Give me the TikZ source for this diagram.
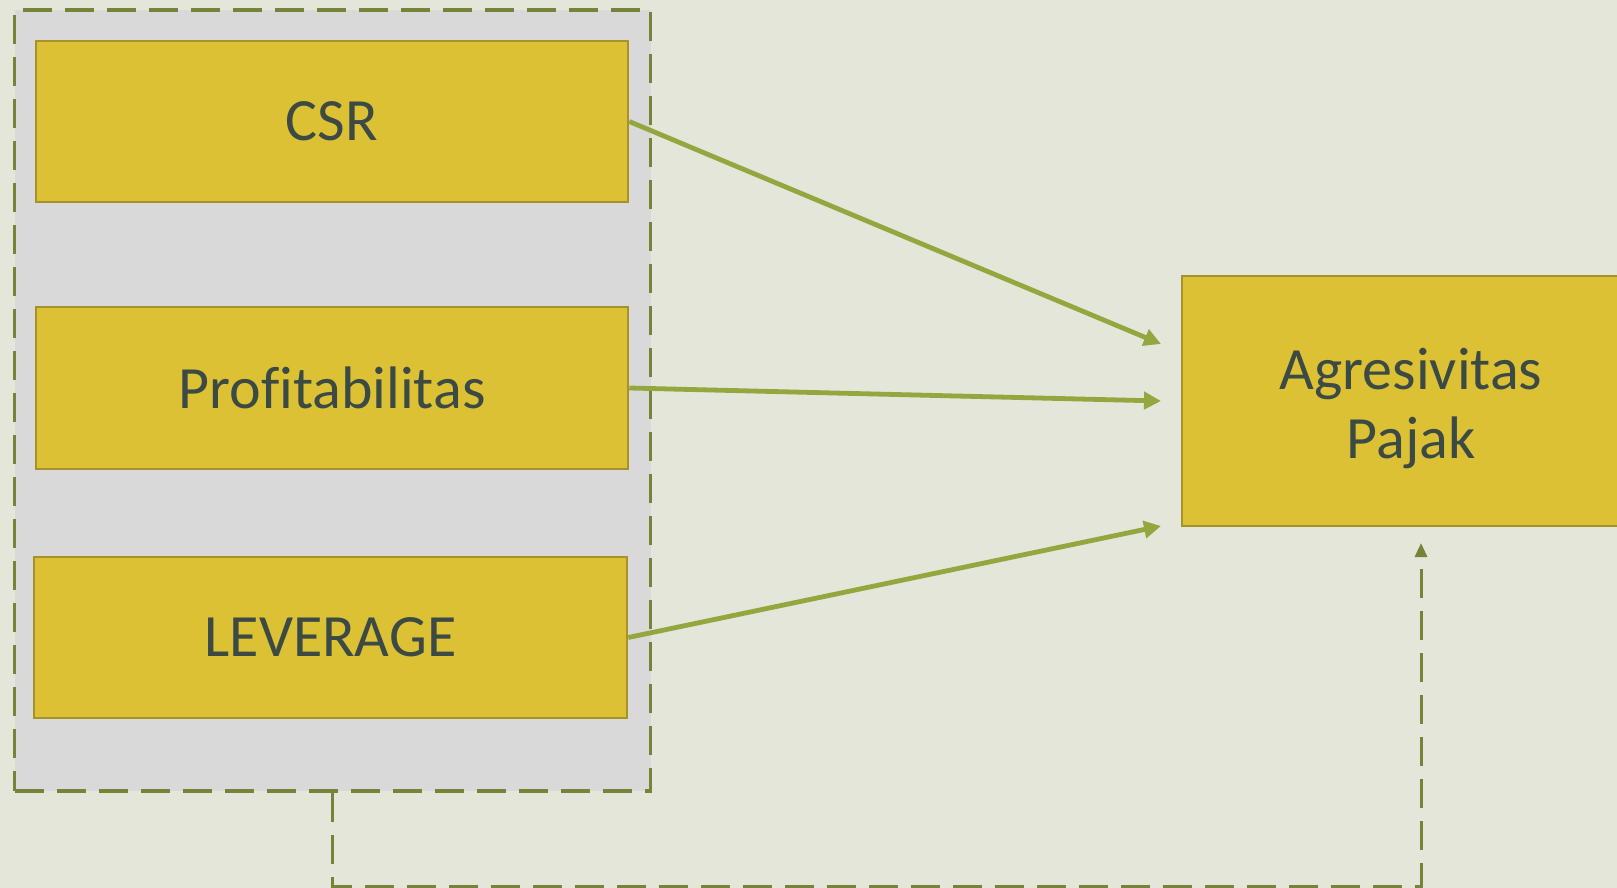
\documentclass[tikz,border=0pt]{standalone}
\usepackage{fontspec}
\setmainfont{Carlito}[Ligatures=NoCommon]
\usetikzlibrary{arrows.meta}
\definecolor{bgc}{RGB}{227,230,217}
\definecolor{grpfill}{RGB}{217,217,217}
\definecolor{boxfill}{RGB}{220,193,52}
\definecolor{boxline}{RGB}{166,145,42}
\definecolor{arrowc}{RGB}{148,167,63}
\definecolor{dashc}{RGB}{118,132,58}
\definecolor{textc}{RGB}{60,74,70}
\begin{document}
\begin{tikzpicture}[x=1pt,y=-1pt,
  varbox/.style={draw=boxline, line width=2.5pt, fill=boxfill, inner sep=0pt, text=textc,
    font=\fontsize{60}{69}\selectfont, align=center},
  grpbox/.style={draw=dashc, line width=3.6pt, fill=grpfill, inner sep=0pt,
    dash pattern=on 29pt off 13pt},
  effect/.style={draw=arrowc, line width=4.8pt, -{Triangle[length=17pt,width=17pt]}},
  feedback/.style={draw=dashc, line width=3pt, dash pattern=on 29pt off 13pt,
    -{Triangle[length=14pt,width=12pt]}}
]
\path[use as bounding box, clip] (0,0) rectangle (1617,888);
\fill[bgc] (0,0) rectangle (1617,888);
\node[grpbox, minimum width=636pt, minimum height=781pt] (grp) at (332.5,400.6) {};
\node[varbox, minimum width=592pt, minimum height=161pt] (csr) at (332,121.5) {CSR};
\node[varbox, minimum width=592pt, minimum height=162pt] (prof) at (332,388) {Profitabilitas};
\node[varbox, minimum width=593pt, minimum height=161pt] (lev) at (330.5,637.5) {LEVERAGE};
\node[varbox, minimum width=458pt, minimum height=250pt] (agr) at (1411,401) {\raisebox{-7pt}[\height][\depth]{\parbox{400pt}{\centering Agresivitas\\Pajak}}};
\coordinate (tA) at (1161,344);
\coordinate (tB) at (1161,401);
\coordinate (tC) at (1161,526);
\coordinate (c1) at (332.5,886);
\coordinate (c2) at (1421,886);
\coordinate (tF) at (1421,543);
\draw[effect] (csr.east) -- (tA);
\draw[effect] (prof.east) -- (tB);
\draw[effect] (lev.east) -- (tC);
\draw[feedback] (grp.south) -- (c1) -- (c2) -- (tF);
\end{tikzpicture}
\end{document}
